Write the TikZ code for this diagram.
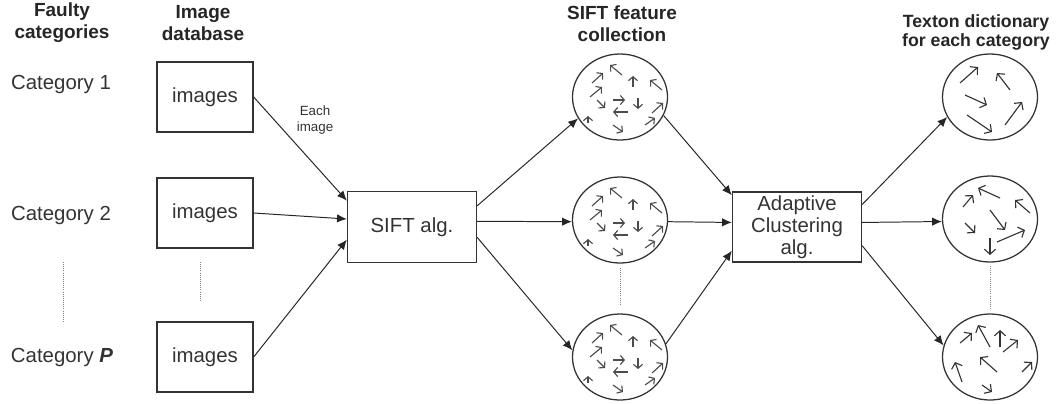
\documentclass[tikz,border=0pt]{standalone}
\usepackage{fontspec}
\setmainfont{Liberation Sans}
\usetikzlibrary{shapes.geometric,arrows.meta}

\definecolor{inkgray}{HTML}{333333}

% small arrows drawn inside the feature bags (x/y offsets in px)
\def\siftpattern{-28/-14/-17/-24, 2/-22/-10/-32, 13/-10/13/-21, 42/-7/30/-17,
  -30/0/-18/-10, -23/3/-15/11, -7/3/5/3, 18/1/18/12, 32/16/43/6,
  8/15/-7/15, -32/26/-32/19, -7/28/3/35, 25/28/35/21}
\def\textonone{-30/-14/-12/-30, 20/-7/7/-24, -25/-2/-3/8, 15/28/32/5, -23/18/2/35}
\def\textontwo{-27/-12/-17/-24, 10/-21/-12/-31, 40/-6/25/-19, 0/-9/15/11,
  -25/4/-15/14, 7/23/35/11, 0/19/0/36}
\def\textonthree{-30/-14/-18/-24, 0/-10/-12/-32, 10/-10/10/-27, 13/-5/28/-17,
  7/15/-10/0, -28/25/-35/5, -8/28/2/35, 32/15/42/5}

\begin{document}
\begin{tikzpicture}[x=0.025cm, y=-0.025cm,
  every node/.style={text=inkgray, font=\fontsize{14.5}{15.6}\selectfont},
  head/.style={text=black!85, align=center, font=\bfseries\fontsize{13.5}{15.6}\selectfont},
  box/.style={draw=inkgray, line width=0.9pt, inner sep=0pt, align=center,
    minimum width=2.4cm, minimum height=1.75cm},
  bag/.style={ellipse, draw=inkgray, line width=0.9pt, inner sep=0pt,
    minimum width=2.375cm, minimum height=2.15cm},
  link/.style={draw=black!85, line width=0.7pt, -{Latex[length=7pt,width=6pt]}},
  tiny/.style={draw=gray!60!black, line width=0.8pt, -{Straight Barb[length=2.8pt,width=6.5pt]}},
  bigtiny/.style={draw=inkgray, line width=0.8pt, -{Straight Barb[length=3.6pt,width=8pt]}},
  dotline/.style={draw=gray, line width=0.7pt, dash pattern=on 0.7pt off 0.8pt}]

\useasboundingbox (0,0) rectangle (1056,403);

% column headings
\node[head] (hcat) at (62,23) {Faulty\\categories};
\node[head] (hdb) at (203,23) {Image\\database};
\node[head] (hsift) at (622,24) {SIFT feature\\collection};
\node[head, font=\bfseries\fontsize{12.6}{13.5}\selectfont] (htex) at (976,32) {Texton dictionary\\for each category};

% categories
\node (cat1) at (61,84) {Category 1};
\node (cat2) at (61,215) {Category 2};
\node (catp) at (62,357) {Category \textbf{\textit{P}}};
\path[dotline] (63,262) -- (63,322);

% image boxes
\node[box] (img1) at (205,97) {images};
\node[box] (img2) at (205,213) {images};
\node[box] (img3) at (205,357) {images};
\path[dotline] (200,262) -- (200,302);

% SIFT and clustering
\node[box, minimum width=3.225cm, minimum height=1.775cm] (sift) at (412,227) {SIFT alg.};
\node[box, minimum width=3.225cm, minimum height=1.75cm] (clus) at (797,227) {Adaptive\\Clustering\\alg.};

% feature bags
\node[bag] (f1) at (620,97) {};
\node[bag] (f2) at (620,220) {};
\node[bag] (f3) at (620,357) {};
\path[dotline] (620,268) -- (620,305);

% texton bags
\node[bag] (t1) at (990,97) {};
\node[bag] (t2) at (990,219) {};
\node[bag] (t3) at (990,357) {};
\path[dotline] (990,266) -- (990,310);

\foreach \bag in {f1,f2,f3}{
  \begin{scope}[shift={(\bag.center)}]
    \foreach \a/\b/\c/\d in \siftpattern
      \draw[tiny] (\a,\b) -- (\c,\d);
  \end{scope}
}

\begin{scope}[shift={(t1.center)}]
  \foreach \a/\b/\c/\d in \textonone \draw[bigtiny] (\a,\b) -- (\c,\d);
\end{scope}
\begin{scope}[shift={(t2.center)}]
  \foreach \a/\b/\c/\d in \textontwo \draw[bigtiny] (\a,\b) -- (\c,\d);
\end{scope}
\begin{scope}[shift={(t3.center)}]
  \foreach \a/\b/\c/\d in \textonthree \draw[bigtiny] (\a,\b) -- (\c,\d);
\end{scope}

% connectors
\path[link] (img1.east) -- (sift.158);
\path[link] (img2.east) -- (sift.173);
\path[link] (img3.east) -- (sift.191);
\node[font=\fontsize{9.5}{11}\selectfont, align=center] (each) at (315,120) {Each\\image};

\path[link] (sift.18) -- (f1.207);
\path[link] (sift.5) -- (f2.182);
\path[link] (sift.-9) -- (f3.172);

\path[link] (f1.-23) -- (clus.154);
\path[link] (f2.-2) -- (clus.176);
\path[link] (f3.16) -- (clus.200);

\path[link] (clus.19) -- (t1.205);
\path[link] (clus.4) -- (t2.183);
\path[link] (clus.-16) -- (t3.166);

\end{tikzpicture}
\end{document}
